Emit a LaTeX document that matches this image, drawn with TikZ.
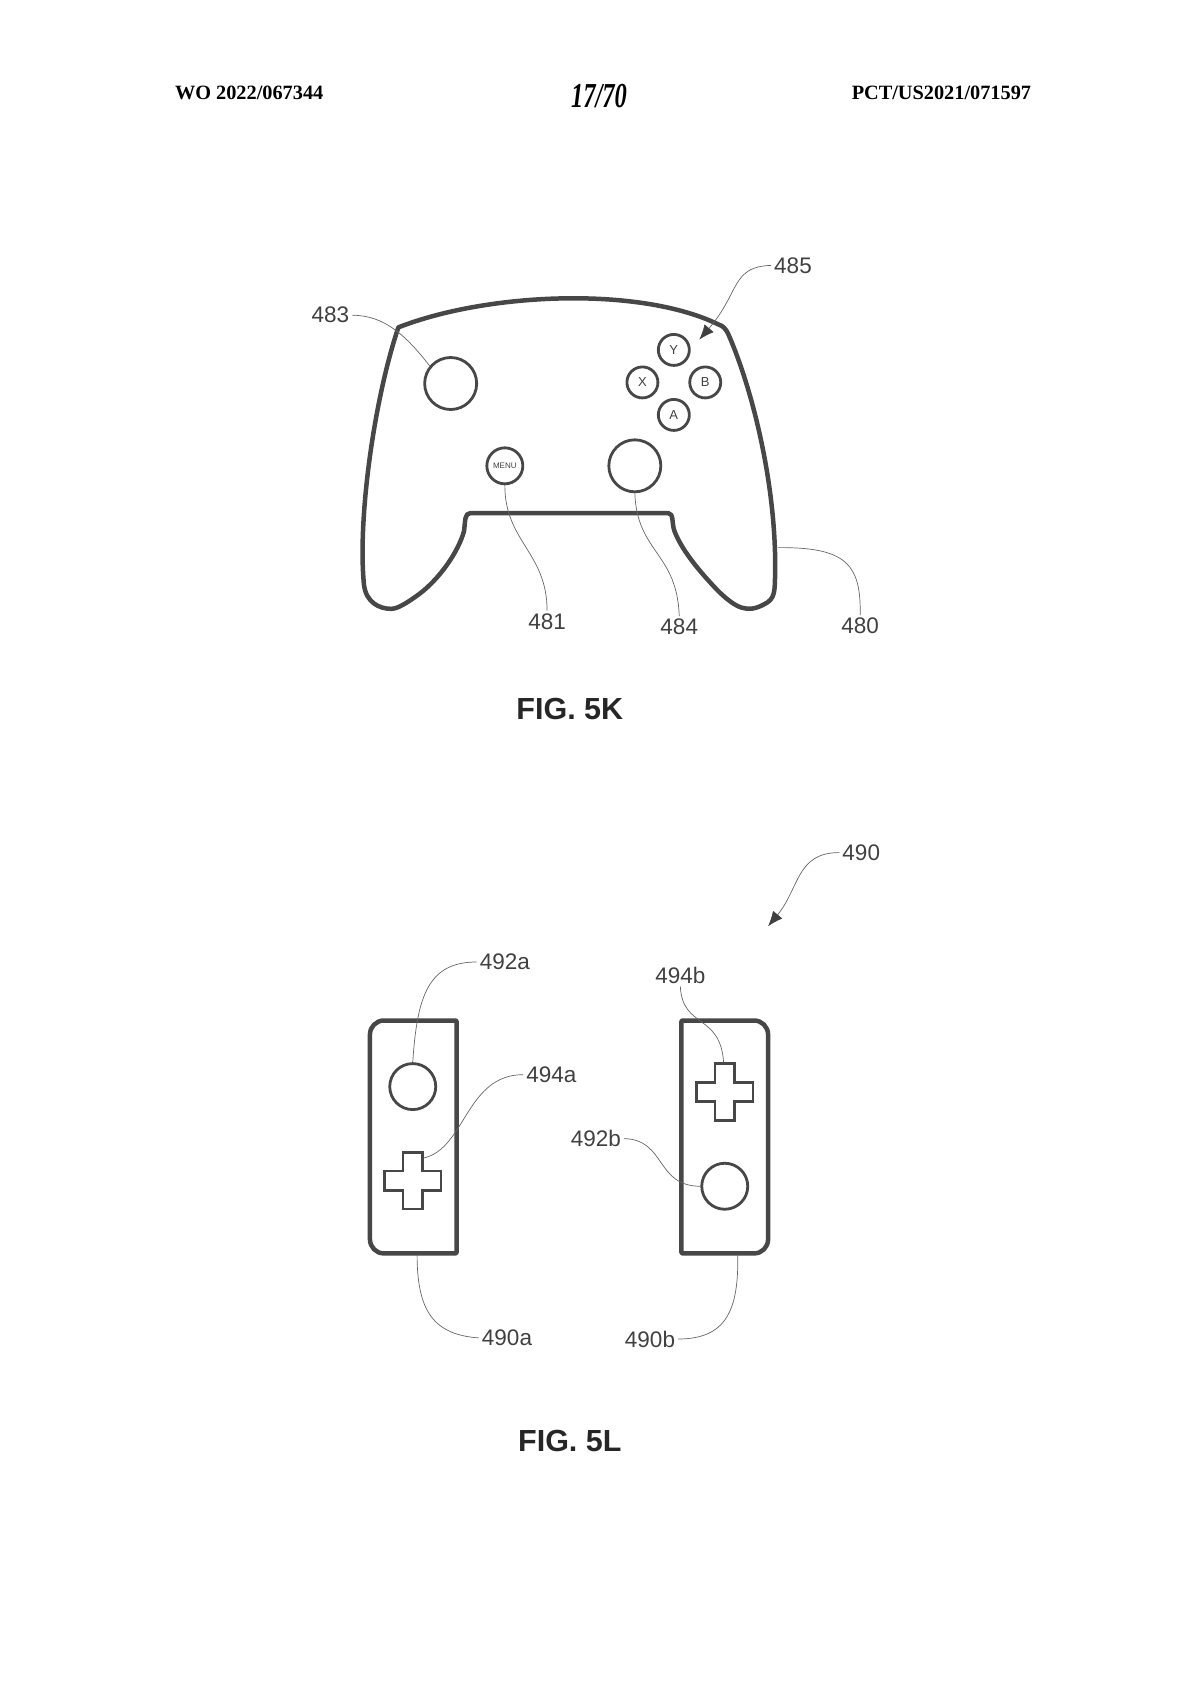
\documentclass[tikz,border=0pt]{standalone}
\usepackage{fontspec}
\setmainfont{Liberation Sans}
\newfontfamily\hdrfont{Liberation Serif}
\usetikzlibrary{arrows.meta}
\tikzset{
  hdr/.style={font=\hdrfont\bfseries\fontsize{20.3}{24}\selectfont,inner sep=0pt},
  figlab/.style={font=\bfseries\fontsize{30.5}{34}\selectfont,text=black!85,inner sep=0pt},
  reflab/.style={font=\fontsize{22.5}{26}\selectfont,text=black!75,inner sep=3pt},
  bodyline/.style={line width=4.5pt,draw=black!72,line join=round},
  padline/.style={line width=2.8pt,draw=black!72,line join=miter},
  stick/.style={circle,padline,minimum size=52pt,inner sep=0pt},
  facebtn/.style={circle,padline,minimum size=31pt,inner sep=0pt,text=black!75,font=\fontsize{13}{15}\selectfont},
  leader/.style={line width=0.7pt,draw=black!60},
  leadarrow/.style={leader,-{Latex[length=15pt,width=12pt,black!75]}}
}
\begin{document}
\begin{tikzpicture}[x=1.0833pt,y=-1.0833pt]
\useasboundingbox (0,0) rectangle (1107.7,1567.4);

% header
\node[hdr] (wo) at (230,86) {WO 2022/067344};
\node[hdr,font=\hdrfont\bfseries\itshape\fontsize{35}{38}\selectfont,xscale=0.7,transform shape] (sheet) at (553,89) {17/70};
\node[hdr] (pct) at (869,86) {PCT/US2021/071597};

% FIG. 5K
\draw[bodyline] (367.7,302.2) .. controls (450,270) and (590,264) .. (663,299.4)
  .. controls (668,301) and (670,304) .. (672,307.8)
  .. controls (695,360) and (717,450) .. (715.5,530)
  .. controls (715,545) and (716,553) .. (705,558)
  .. controls (690,566) and (680,562) .. (663,545.6)
  .. controls (650,532) and (630,510) .. (622.5,490)
  .. controls (620,483) and (622,474) .. (617,473.7)
  -- (434,473.7)
  .. controls (429,474) and (429.5,480) .. (428.4,490)
  .. controls (423,510) and (405,535) .. (386.5,548.7)
  .. controls (375,557) and (367,562) .. (361,562)
  .. controls (350,562) and (338,556) .. (336,540)
  .. controls (330,480) and (345,370) .. cycle;

\node[stick] (stickL) at (416,354) {};
\node[stick] (stickR) at (586,430) {};
\node[facebtn,minimum size=36pt,font=\fontsize{8}{10}\selectfont] (menu) at (466,430) {MENU};
\node[facebtn] (btnY) at (622,323) {Y};
\node[facebtn] (btnA) at (622,383) {A};
\node[facebtn] (btnX) at (593,353) {X};
\node[facebtn] (btnB) at (651,353) {B};

\node[reflab] (l483) at (305,291) {483};
\node[reflab] (l485) at (732,245) {485};
\node[reflab] (l481) at (505,574) {481};
\node[reflab] (l484) at (627,579) {484};
\node[reflab] (l480) at (794,578) {480};
\coordinate (c485) at (645.5,313.5);
\coordinate (c480) at (718,505.5);

\draw[leader] (l483.east) .. controls (355,291) and (375,310) .. (stickL.140);
\draw[leadarrow] (l485.west) .. controls (675,246) and (683,270) .. (c485);
\draw[leader] (menu.south) .. controls (466,500) and (505,510) .. (l481.north);
\draw[leader] (stickR.south) .. controls (588,510) and (625,510) .. (l484.north);
\draw[leader] (c480) .. controls (780,505) and (795,520) .. (l480.north);

\node[figlab] (fig5k) at (526,654) {FIG. 5K};

% FIG. 5L
\draw[bodyline,rounded corners=1pt] (421.5,942) [rounded corners=14pt] -- (341.5,942) -- (341.5,1157) [rounded corners=1pt] -- (421.5,1157) -- cycle;
\draw[bodyline,rounded corners=1pt] (629,942) [rounded corners=14pt] -- (709,942) -- (709,1157) [rounded corners=1pt] -- (629,1157) -- cycle;

\node[stick,minimum size=46pt] (stickA) at (381,1003) {};
\node[stick,minimum size=46pt] (stickB) at (669,1095) {};
\draw[padline] (372,1064) -- ++(18,0) -- ++(0,17) -- ++(17,0) -- ++(0,18) -- ++(-17,0) -- ++(0,17) -- ++(-18,0) -- ++(0,-17) -- ++(-17,0) -- ++(0,-18) -- ++(17,0) -- cycle;
\draw[padline] (660,982) -- ++(18,0) -- ++(0,17) -- ++(17,0) -- ++(0,18) -- ++(-17,0) -- ++(0,17) -- ++(-18,0) -- ++(0,-17) -- ++(-17,0) -- ++(0,-18) -- ++(17,0) -- cycle;

\node[reflab] (l490) at (795,787) {490};
\node[reflab] (l492a) at (466,888) {492a};
\node[reflab] (l494b) at (628,900) {494b};
\node[reflab] (l494a) at (509,992) {494a};
\node[reflab] (l492b) at (550,1051) {492b};
\node[reflab] (l490a) at (468,1235) {490a};
\node[reflab] (l490b) at (600,1236) {490b};
\coordinate (c490) at (709,855);
\coordinate (c494a) at (391,1069);
\coordinate (c494b) at (668,981);
\coordinate (c490a) at (385,1158);
\coordinate (c490b) at (681,1158);

\draw[leadarrow] (l490.west) .. controls (735,787) and (738,820) .. (c490);
\draw[leader] (l492a.west) .. controls (395,888) and (385,920) .. (stickA.north);
\draw[leader] (l494a.west) .. controls (430,992) and (430,1060) .. (c494a);
\draw[leader] (l494b.south) .. controls (630,950) and (665,935) .. (c494b);
\draw[leader] (l492b.east) .. controls (615,1052) and (605,1095) .. (stickB.west);
\draw[leader] (c490a) .. controls (385,1210) and (400,1232) .. (l490a.west);
\draw[leader] (c490b) .. controls (682,1210) and (670,1236) .. (l490b.east);

\node[figlab] (fig5l) at (526,1330) {FIG. 5L};
\end{tikzpicture}
\end{document}
